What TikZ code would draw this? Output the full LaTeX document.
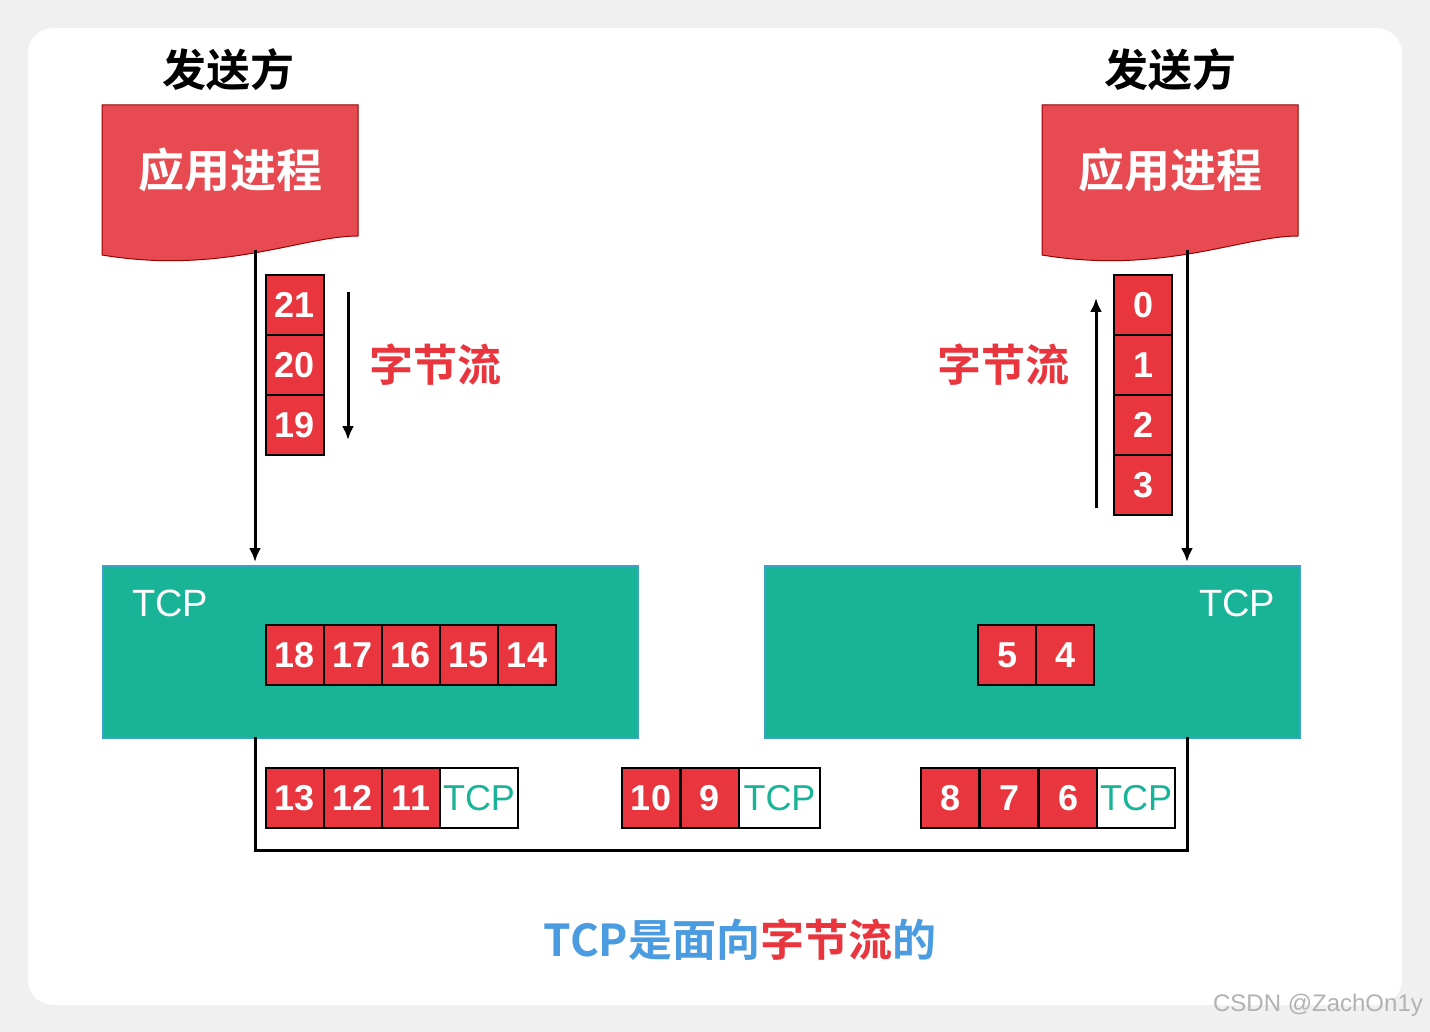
\documentclass[tikz,border=0pt]{standalone}
\usepackage{fontspec}
\setmainfont{Liberation Sans}
\newfontfamily\cjk{Noto Sans CJK SC}[BoldFont={Noto Sans CJK SC Bold}]
\definecolor{cred}{HTML}{E8353E}
\definecolor{dred}{HTML}{E84A52}
\definecolor{teal}{HTML}{19B397}
\definecolor{cblue}{HTML}{4A9BE0}
\tikzset{
 num/.style={draw=black,line width=2pt,fill=cred,minimum width=58pt,minimum height=60pt,inner sep=0,text=white,font=\fontsize{36}{36}\selectfont\bfseries},
 tcpw/.style={draw=black,line width=2pt,fill=white,minimum width=78pt,minimum height=60pt,inner sep=0,text=teal,font=\fontsize{36}{36}\selectfont},
 tbox/.style={draw=cblue!70!teal,line width=1.5pt,fill=teal},
 line/.style={line width=3pt},
 arr/.style={line width=3pt,-{Latex[length=14pt,width=12pt]}},
}
\usetikzlibrary{arrows.meta}
\begin{document}
\begin{tikzpicture}[x=1pt,y=-1pt]
\useasboundingbox (0,0) rectangle (1430,1032);
\fill[gray!12] (0,0) rectangle (1430,1032);
\fill[white,rounded corners=25pt] (28,28) rectangle (1402,1005);
% titles
\node[font=\cjk\bfseries\fontsize{44}{44}\selectfont] (s1) at (228,70) {发送方};
\node[font=\cjk\bfseries\fontsize{44}{44}\selectfont] (s2) at (1170,70) {发送方};
% documents
\foreach \x/\n in {102/d1,1042/d2}{
 \draw[fill=dred,draw=red!60!black,line width=1pt] (\x,105) -- (\x+256,105) -- (\x+256,236)
   .. controls (\x+200,236) and (\x+120,275) .. (\x,255) -- cycle;
}
\node[text=white,font=\cjk\bfseries\fontsize{46}{46}\selectfont] (a1) at (230,170) {应用进程};
\node[text=white,font=\cjk\bfseries\fontsize{46}{46}\selectfont] (a2) at (1170,170) {应用进程};
% TCP boxes
\node[tbox,minimum width=535pt,minimum height=172pt,anchor=north west] (t1) at (102,565) {};
\node[tbox,minimum width=535pt,minimum height=172pt,anchor=north west] (t2) at (764,565) {};
\node[text=white,font=\fontsize{38}{38}\selectfont] at (170,603) {TCP};
\node[text=white,font=\fontsize{38}{38}\selectfont] at (1237,603) {TCP};
% main lines
\coordinate (l0) at (255,250); \coordinate (l1) at (255,562);
\coordinate (r0) at (1187,250); \coordinate (r1) at (1187,562);
\draw[arr] (l0) -- (l1);
\draw[arr] (r0) -- (r1);
\coordinate (b1) at (255,737); \coordinate (b2) at (255,850);
\coordinate (b3) at (1187,850); \coordinate (b4) at (1187,737);
\draw[line] (b1) -- (b2) -- (b3) -- (b4);
% left stream
\foreach \v [count=\i] in {21,20,19} \node[num] (L\v) at (295,245+60*\i) {\v};
\coordinate (la0) at (348,292); \coordinate (la1) at (348,440);
\draw[arr] (la0) -- (la1);
\node[text=cred,font=\cjk\bfseries\fontsize{44}{44}\selectfont] (z1) at (435,365) {字节流};
% right stream
\foreach \v [count=\i] in {0,1,2,3} \node[num] (R\v) at (1143,245+60*\i) {\v};
\coordinate (ra0) at (1096,508); \coordinate (ra1) at (1096,298);
\draw[arr] (ra0) -- (ra1);
\node[text=cred,font=\cjk\bfseries\fontsize{44}{44}\selectfont] (z2) at (1003,365) {字节流};
% buffers
\foreach \v [count=\i] in {18,17,16,15,14} \node[num] (B\v) at (237+58*\i,655) {\v};
\foreach \v [count=\i] in {5,4} \node[num] (C\v) at (949+58*\i,655) {\v};
% packets
\foreach \v [count=\i] in {13,12,11} \node[num] (P\v) at (237+58*\i,798) {\v};
\node[tcpw] (q1) at (479,798) {TCP};
\foreach \v [count=\i] in {10,9} \node[num] (P\v) at (592+59*\i,798) {\v};
\node[tcpw,minimum width=81pt] (q2) at (779.5,798) {TCP};
\foreach \v [count=\i] in {8,7,6} \node[num] (P\v) at (891+59*\i,798) {\v};
\node[tcpw] (q3) at (1136,798) {TCP};
% caption
\node[font=\cjk\bfseries\fontsize{44}{44}\selectfont] (cap) at (740,940) {\textcolor{cblue}{TCP是面向}\textcolor{cred}{字节流}\textcolor{cblue}{的}};
\node[text=gray!60,font=\fontsize{24}{24}\selectfont] (wm) at (1318,1005) {CSDN @ZachOn1y};
\end{tikzpicture}
\end{document}
